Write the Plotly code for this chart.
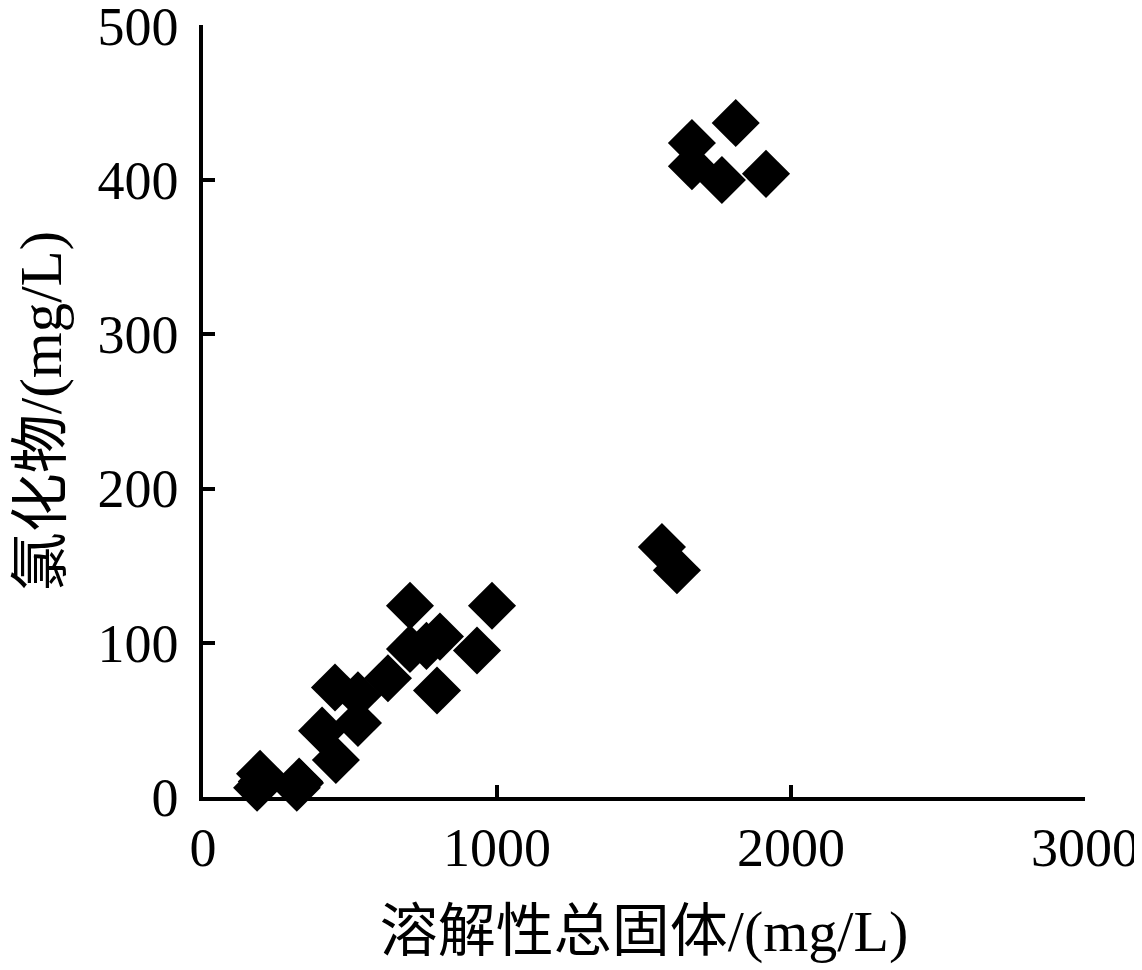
import plotly.graph_objects as go

tds = [184, 194, 200, 319, 327, 330, 405, 449, 452, 527, 527, 629, 704, 704, 760, 796, 806, 932, 983,
       1561, 1612, 1663, 1663, 1765, 1812, 1915]
chloride = [6, 15, 10, 6, 10, 9, 43, 71, 24, 66, 48, 77, 124, 96, 98, 69, 104, 95, 124,
            162, 147, 424, 409, 400, 437, 404]

x_ticks = [0, 1000, 2000, 3000]
y_ticks = [0, 100, 200, 300, 400, 500]

x_title = "溶解性总固体/(mg/L)"
y_title = "氯化物/(mg/L)"

font_family = "Liberation Serif, Times New Roman, Noto Sans CJK SC, serif"

fig = go.Figure(go.Scatter(
    x=tds, y=chloride, mode="markers",
    marker=dict(symbol="diamond", size=37, color="black", line=dict(width=0)),
    cliponaxis=False,
))

fig.update_layout(
    width=1134, height=962,
    margin=dict(l=195, r=57, t=17, b=173),
    paper_bgcolor="white", plot_bgcolor="white",
    showlegend=False,
    font=dict(family=font_family, size=54, color="black"),
)
fig.update_xaxes(
    range=[0, 3000], tickvals=x_ticks, ticktext=[str(v) for v in x_ticks],
    showline=True, linecolor="black", linewidth=3.5, mirror=False,
    ticks="inside", ticklen=12, tickwidth=3.5, tickcolor="black",
    showgrid=False, zeroline=False, automargin=False,
    ticklabeloverflow="allow",
    tickfont=dict(family=font_family, size=54),
    title=dict(text=x_title, font=dict(family=font_family, size=58), standoff=35),
)
fig.update_yaxes(
    range=[0, 500.5], tickvals=y_ticks, ticktext=[str(v) for v in y_ticks],
    showline=True, linecolor="black", linewidth=3.5, mirror=False,
    ticks="inside", ticklen=12, tickwidth=3.5, tickcolor="black",
    showgrid=False, zeroline=False, automargin=False,
    ticklabeloverflow="allow",
    tickfont=dict(family=font_family, size=54),
    ticklabelstandoff=10,
    title=dict(text=y_title, font=dict(family=font_family, size=59), standoff=44),
)

fig.write_html("out.html")
